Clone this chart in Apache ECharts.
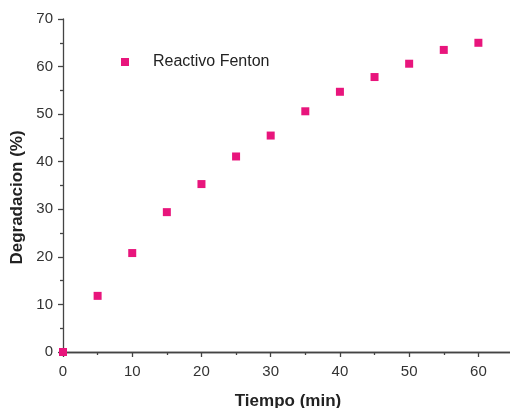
<!DOCTYPE html>
<html><head><meta charset="utf-8">
<script src="https://cdn.jsdelivr.net/npm/echarts@6/dist/echarts.min.js"></script>
<style>html,body{margin:0;padding:0;background:#fff}#c{width:510px;height:408px}</style>
</head><body><div id="c"></div>
<script>
var tiempo = [0, 5, 10, 15, 20, 25, 30, 35, 40, 45, 50, 55, 60];
var degradacion = [0, 11.8, 20.8, 29.4, 35.3, 41.1, 45.5, 50.6, 54.7, 57.8, 60.6, 63.5, 65.0];
var seriesName = 'Reactivo Fenton';
var xTitle = 'Tiempo (min)';
var yTitle = 'Degradacion (%)';

var chart = echarts.init(document.getElementById('c'));
var axisLineStyle = {color: '#444', width: 1.3};
chart.setOption({
  animation: false,
  grid: {left: 63, right: -3, top: 19, bottom: 56, containLabel: false, outerBoundsMode: 'none'},
  legend: {
    data: [seriesName], left: 116, top: 49, icon: 'rect', itemWidth: 8, itemHeight: 8, itemGap: 10,
    textStyle: {fontFamily: 'Liberation Sans', fontSize: 16, color: '#222', padding: [0, 0, 0, 19]}
  },
  xAxis: [{
    type: 'value', min: 0, max: 65, interval: 10,
    name: xTitle, nameLocation: 'middle', nameGap: 41,
    nameTextStyle: {fontFamily: 'Liberation Sans', fontWeight: 'bold', fontSize: 17, color: '#222'},
    axisLine: {show: true, onZero: false, lineStyle: axisLineStyle},
    axisTick: {show: true, inside: false, length: 5, lineStyle: axisLineStyle},
    minorTick: {show: true, splitNumber: 2, length: 3, lineStyle: axisLineStyle},
    splitLine: {show: false},
    axisLabel: {fontFamily: 'Liberation Sans', fontSize: 15, color: '#333', margin: 12,
      formatter: function (v) { return v % 10 === 0 && v <= 60 ? v : ''; }}
  }, {
    type: 'value', position: 'top', min: 0, max: 65,
    axisLine: {show: true, lineStyle: axisLineStyle},
    axisTick: {show: false}, axisLabel: {show: false}, splitLine: {show: false}
  }],
  yAxis: {
    type: 'value', min: 0, max: 70, interval: 10,
    name: yTitle, nameLocation: 'middle', nameGap: 37,
    nameTextStyle: {fontFamily: 'Liberation Sans', fontWeight: 'bold', fontSize: 17, color: '#222', padding: [0, 24, 0, 0]},
    axisLine: {show: true, onZero: false, lineStyle: axisLineStyle},
    axisTick: {show: true, inside: false, length: 5, lineStyle: axisLineStyle},
    minorTick: {show: true, splitNumber: 2, length: 3, lineStyle: axisLineStyle},
    splitLine: {show: false},
    axisLabel: {fontFamily: 'Liberation Sans', fontSize: 15, color: '#333', margin: 10}
  },
  series: [{
    name: seriesName, type: 'scatter', symbol: 'rect', symbolSize: 8,
    itemStyle: {color: '#e8157c', opacity: 1},
    data: tiempo.map(function (t, i) { return [t, degradacion[i]]; })
  }]
});
</script></body></html>
